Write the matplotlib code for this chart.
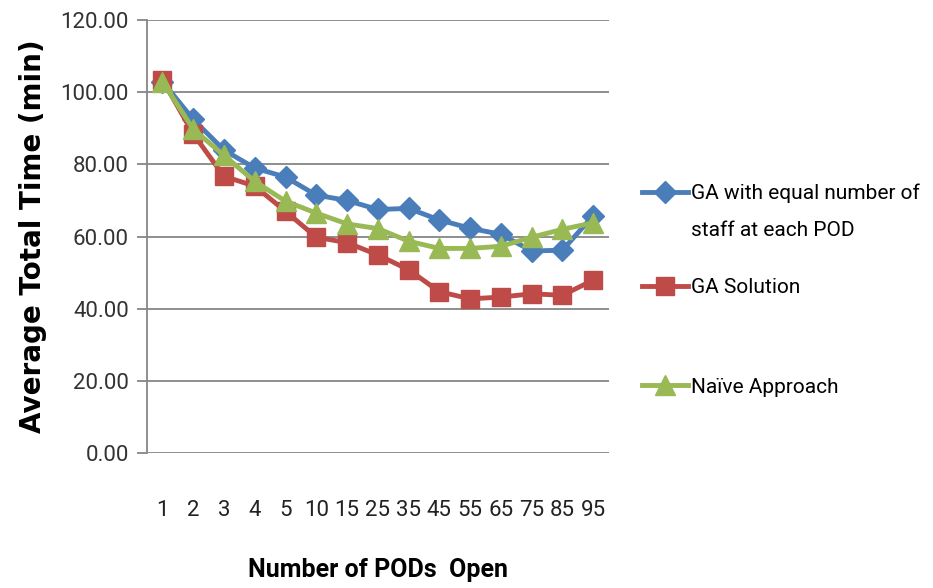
import numpy as np
import matplotlib
matplotlib.use("Agg")
import matplotlib.pyplot as plt
from matplotlib.lines import Line2D

pods = ["1", "2", "3", "4", "5", "10", "15", "25", "35", "45", "55", "65", "75", "85", "95"]
ga_equal = [103.0, 92.5, 84.0, 79.0, 76.5, 71.5, 70.0, 67.5, 67.8, 64.6, 62.3, 60.6, 56.0, 56.2, 65.8]
ga_solution = [103.5, 88.5, 76.7, 74.0, 67.0, 59.8, 58.3, 54.9, 50.8, 44.7, 42.7, 43.2, 44.1, 43.7, 47.9]
naive = [103.0, 89.8, 82.5, 75.3, 69.8, 66.5, 63.5, 62.2, 58.7, 56.7, 56.7, 57.3, 59.8, 62.0, 63.8]
yticks = [0, 20, 40, 60, 80, 100, 120]

txt_font = ["Roboto", "DejaVu Sans"]
grey = "#868686"

fig = plt.figure(figsize=(9.33, 5.88), dpi=100)
ax = fig.add_axes([0.1576, 0.230, 0.4947, 0.7355])

x = np.arange(len(pods))
l1, = ax.plot(x, ga_equal, color="#4A7EBB", lw=3.5, marker="D", ms=11)
l2, = ax.plot(x, ga_solution, color="#BE4B48", lw=3.5, marker="s", ms=13)
l3, = ax.plot(x, naive, color="#98B954", lw=3.5, marker="^", ms=14)

ax.set_xlim(-0.5, len(pods) - 0.5)
ax.set_ylim(0, 120)
ax.set_yticks(yticks)
ax.set_yticklabels([f"{v:.2f}" for v in yticks], family=txt_font, fontsize=16, color="#333333")
ax.set_xticks(x)
ax.set_xticklabels(pods, family=txt_font, fontsize=16, color="#222222")

ax.grid(axis="y", color=grey, lw=1.3)
ax.set_axisbelow(True)
for s in ["top", "right", "bottom"]:
    ax.spines[s].set_visible(False)
ax.spines["left"].set_color(grey)
ax.spines["left"].set_linewidth(1.3)
ax.tick_params(axis="y", length=7, color=grey, width=1.3, pad=6)
ax.tick_params(axis="x", length=0, pad=34)

ax.set_ylabel("Average Total Time (min)", fontsize=20, fontweight="bold",
              family="DejaVu Sans", labelpad=10)
ax.set_xlabel("Number of PODs  Open", fontsize=18, fontweight="bold",
              family=txt_font, labelpad=27)

# legend: one box per entry so the spacing can follow the original
leg_kw = dict(loc="center left", frameon=False, prop={"family": txt_font, "size": 15},
              handlelength=2.2, handletextpad=0.15, borderpad=0, borderaxespad=0)
blank = Line2D([], [], color="none")
leg1 = ax.legend([l1, blank], ["GA with equal number of", "staff at each POD"],
                 bbox_to_anchor=(1.072, 0.558), labelspacing=0.85, **leg_kw)
ax.add_artist(leg1)
leg2 = ax.legend([l2], ["GA Solution"], bbox_to_anchor=(1.072, 0.381), **leg_kw)
ax.add_artist(leg2)
ax.legend([l3], ["Naïve Approach"], bbox_to_anchor=(1.072, 0.152), **leg_kw)

fig.savefig("out.png", dpi=100)
